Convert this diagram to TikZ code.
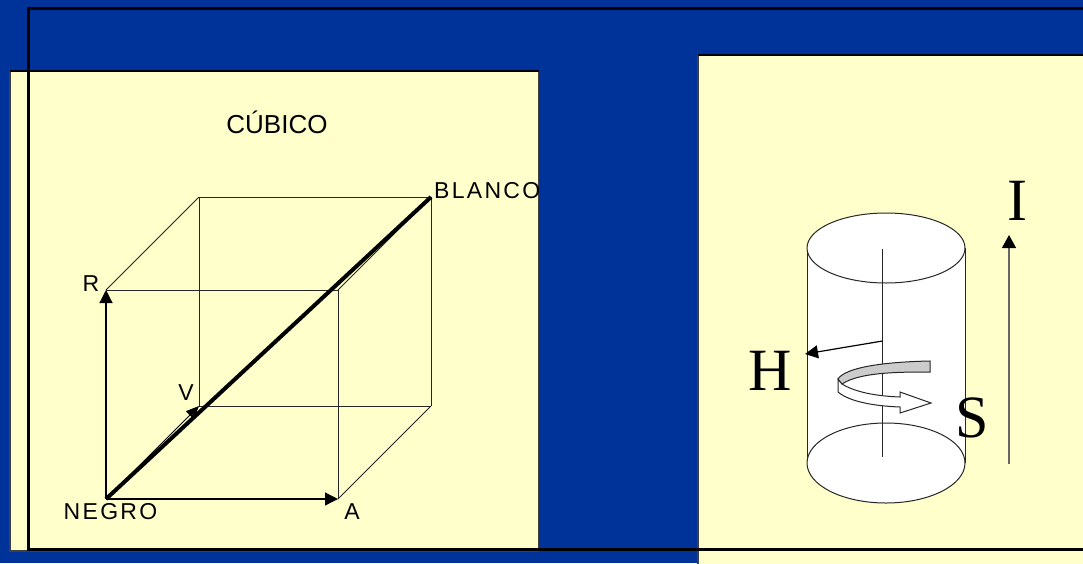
\documentclass[tikz,border=0pt]{standalone}
\usepackage{fontspec}
\setmainfont{Liberation Sans}
\newfontfamily\bigserif{Liberation Serif}
\usetikzlibrary{arrows.meta}
\definecolor{slideBlue}{RGB}{0,51,153}
\definecolor{panelYellow}{RGB}{255,255,204}
\definecolor{bandGray}{RGB}{204,204,204}
\tikzstyle{panel} = [fill=panelYellow, draw=black!75, line width=1.3pt]
\tikzstyle{edge}  = [draw=black!85, line width=1pt]
\tikzstyle{arrow} = [-{Triangle[length=13pt,width=13pt]}, line width=1.2pt]
\tikzstyle{lab}   = [inner sep=0pt, font=\fontsize{23}{25}\selectfont\addfontfeature{LetterSpace=10}]
\tikzstyle{biglab} = [inner sep=0pt, font=\fontsize{60}{62}\bigserif]
\begin{document}
\begin{tikzpicture}[x=1pt, y=-1pt]
\useasboundingbox (0,0) rectangle (1083,563);
\fill[slideBlue] (0,0) rectangle (1083,563);
% panels
\draw[panel] (10,71) rectangle (538.5,551);
\draw[panel] (698,55) rectangle (1095,575);
\draw[line width=1.5pt] (10,71) -- (538.5,71);
\draw[line width=1.5pt] (698,55) -- (1095,55);
% frame over the panels
\draw[line width=3pt] (1095,8) -- (28,8) -- (28,549) -- (1095,549);
% cube corners
\coordinate (negro) at (106,499);
\coordinate (ca) at (338,499);
\coordinate (cr) at (106,290);
\coordinate (cf) at (338,290);
\coordinate (cv) at (199,406);
\coordinate (cg) at (431,406);
\coordinate (cb) at (199,197);
\coordinate (blanco) at (431,197);
\foreach \p/\q in {cr/cf,cf/ca,cr/cb,cb/blanco,blanco/cg,cg/cv,cv/cb,cg/ca,cf/blanco}{
  \draw[edge] (\p) -- (\q);
}
\draw[arrow] (negro) -- (ca);
\draw[arrow] (negro) -- (cr);
\draw[-{Triangle[length=13pt,width=11pt]}, line width=0.8pt] (negro) -- (cv);
\draw[line width=4pt] (negro) -- (blanco);
% cube labels
\node[lab, font=\fontsize{26}{28}\selectfont] (cubico) at (277,122.5) {CÚBICO};
\node[lab] (lnegro) at (110.5,512) {NEGRO};
\node[lab] (la) at (352,512) {A};
\node[lab] (lr) at (91,284) {R};
\node[lab] (lv) at (186,393) {V};
\node[lab, anchor=west] (lblanco) at (434,191) {BLANCO};
% cylinder
\coordinate (tl) at (807,248);
\coordinate (tr) at (965,248);
\coordinate (bl) at (807,463);
\coordinate (br) at (965,463);
\fill[white] (tl) rectangle (br);
\draw[edge] (tl) -- (bl);
\draw[edge] (tr) -- (br);
\draw[edge, fill=white] (886,248) ellipse [x radius=79, y radius=35];
\draw[edge, fill=white] (886,463) ellipse [x radius=79, y radius=40];
\coordinate (axtop) at (882.5,249);
\coordinate (axbot) at (882.5,457);
\coordinate (axh) at (882.5,341);
\coordinate (htip) at (805,354);
\draw[edge] (axtop) -- (axbot);
\draw[arrow] (axh) -- (htip);
% rotation ribbon
\draw[edge, fill=white] (838,379) -- (838,392) .. controls (850,402) and (875,406) .. (900,407)
  -- (900,413) -- (931,403) -- (900,392) -- (900,397)
  .. controls (875,396) and (855,392) .. (842,384) -- cycle;
\draw[edge, fill=bandGray] (930,361) -- (930,372) .. controls (900,372) and (860,372) .. (842,384)
  -- (838,379) .. controls (845,368) and (880,362) .. cycle;
% intensity axis
\coordinate (ibot) at (1009,464);
\coordinate (itop) at (1009,235);
\draw[-{Triangle[length=13pt,width=14pt,black]}, black!60, line width=1.3pt] (ibot) -- (itop);
\node[biglab] (lh) at (770,371) {H};
\node[biglab] (ls) at (972,418) {S};
\node[biglab] (li) at (1017,201) {I};
\end{tikzpicture}
\end{document}
